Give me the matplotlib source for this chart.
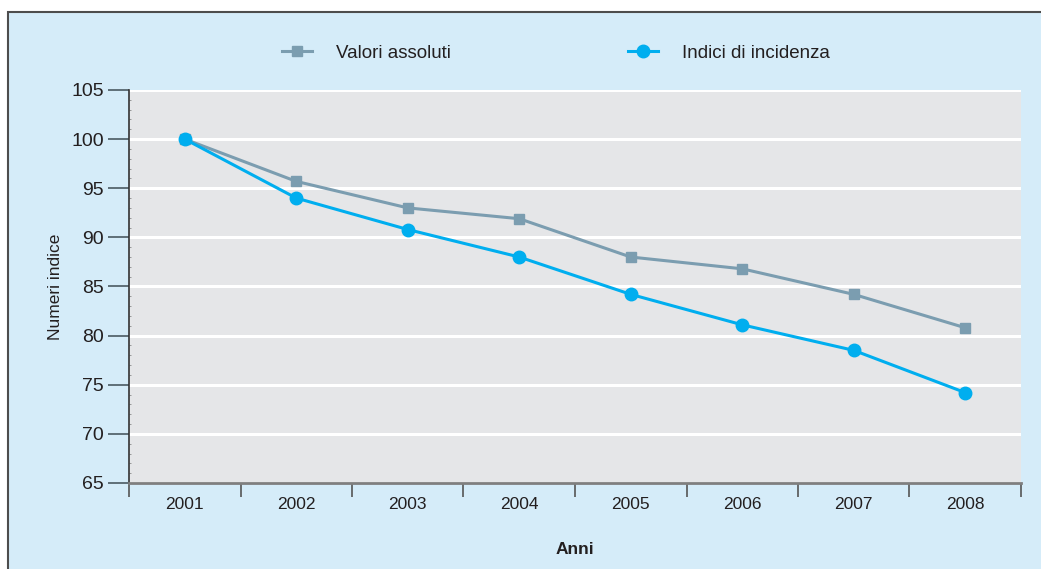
import matplotlib.pyplot as plt
from matplotlib.patches import Rectangle
from matplotlib.ticker import MultipleLocator, FixedLocator

plt.rcParams['font.family'] = ['Liberation Sans', 'DejaVu Sans']

# Data
anni = ["2001", "2002", "2003", "2004", "2005", "2006", "2007", "2008"]
valori_assoluti = [100, 95.7, 93.0, 91.9, 88.0, 86.8, 84.2, 80.8]
indici_incidenza = [100, 94.0, 90.8, 88.0, 84.2, 81.1, 78.5, 74.2]

bg_blue = "#D5ECF9"
grey_line = "#7B9DB0"
cyan_line = "#00AEEF"
text_col = "#231F20"

fig = plt.figure(figsize=(10.41, 5.69), dpi=100, facecolor="white")

# outer light blue panel with dark border (left and top visible)
panel = Rectangle((8 / 1041, -0.05), 1.0, 1 - 12 / 569 + 0.05,
                  transform=fig.transFigure, facecolor=bg_blue,
                  edgecolor="#4D4D4D", linewidth=1.5, zorder=-1)
fig.add_artist(panel)

ax = fig.add_axes([129 / 1041, 1 - 483 / 569, (1021 - 129) / 1041, (483 - 90) / 569])
ax.set_zorder(1)
ax.set_facecolor("#E5E6E8")

x = list(range(len(anni)))
ax.plot(x, valori_assoluti, color=grey_line, lw=2.2, marker="s", ms=7,
        label="Valori assoluti", zorder=3)
ax.plot(x, indici_incidenza, color=cyan_line, lw=2.2, marker="o", ms=9,
        label="Indici di incidenza", zorder=4)

ax.set_xlim(-0.5, len(anni) - 0.5)
ax.set_ylim(65, 105)

# y axis
ax.yaxis.set_major_locator(MultipleLocator(5))
ax.yaxis.set_minor_locator(MultipleLocator(1))
ax.grid(axis="y", which="major", color="white", lw=2.2)
ax.set_axisbelow(True)
ax.tick_params(axis="y", which="major", direction="out", length=15, width=1.2,
               color="#4A5A62", labelsize=14, labelcolor=text_col, pad=3)
ax.tick_params(axis="y", which="minor", direction="in", length=1.5, width=0.6,
               color="#8A8A8A")

# x axis: ticks at category boundaries, labels at centers
ax.xaxis.set_major_locator(FixedLocator([i - 0.5 for i in range(len(anni) + 1)]))
ax.xaxis.set_major_formatter(plt.NullFormatter())
ax.set_xticks(x, anni, minor=True)
ax.tick_params(axis="x", which="major", direction="out", length=10, width=1.2,
               color="#555555")
ax.tick_params(axis="x", which="minor", length=0, labelsize=12.5,
               labelcolor=text_col, pad=10)

for s in ["top", "right"]:
    ax.spines[s].set_visible(False)
ax.spines["left"].set_color("#333333")
ax.spines["left"].set_linewidth(1.2)
ax.spines["bottom"].set_color("#7F7F7F")
ax.spines["bottom"].set_linewidth(2)

ax.set_ylabel("Numeri indice", fontsize=12.5, color=text_col, labelpad=6)
ax.set_xlabel("Anni", fontsize=12.5, fontweight="bold", color=text_col, labelpad=22)

fig.legend(loc="center", bbox_to_anchor=(556 / 1041, 1 - 53 / 569), ncol=2,
           frameon=False, fontsize=13.5, handlelength=1.6, handletextpad=1.3,
           columnspacing=9.4, labelcolor=text_col)

fig.savefig("out.png", dpi=100, facecolor="white")
